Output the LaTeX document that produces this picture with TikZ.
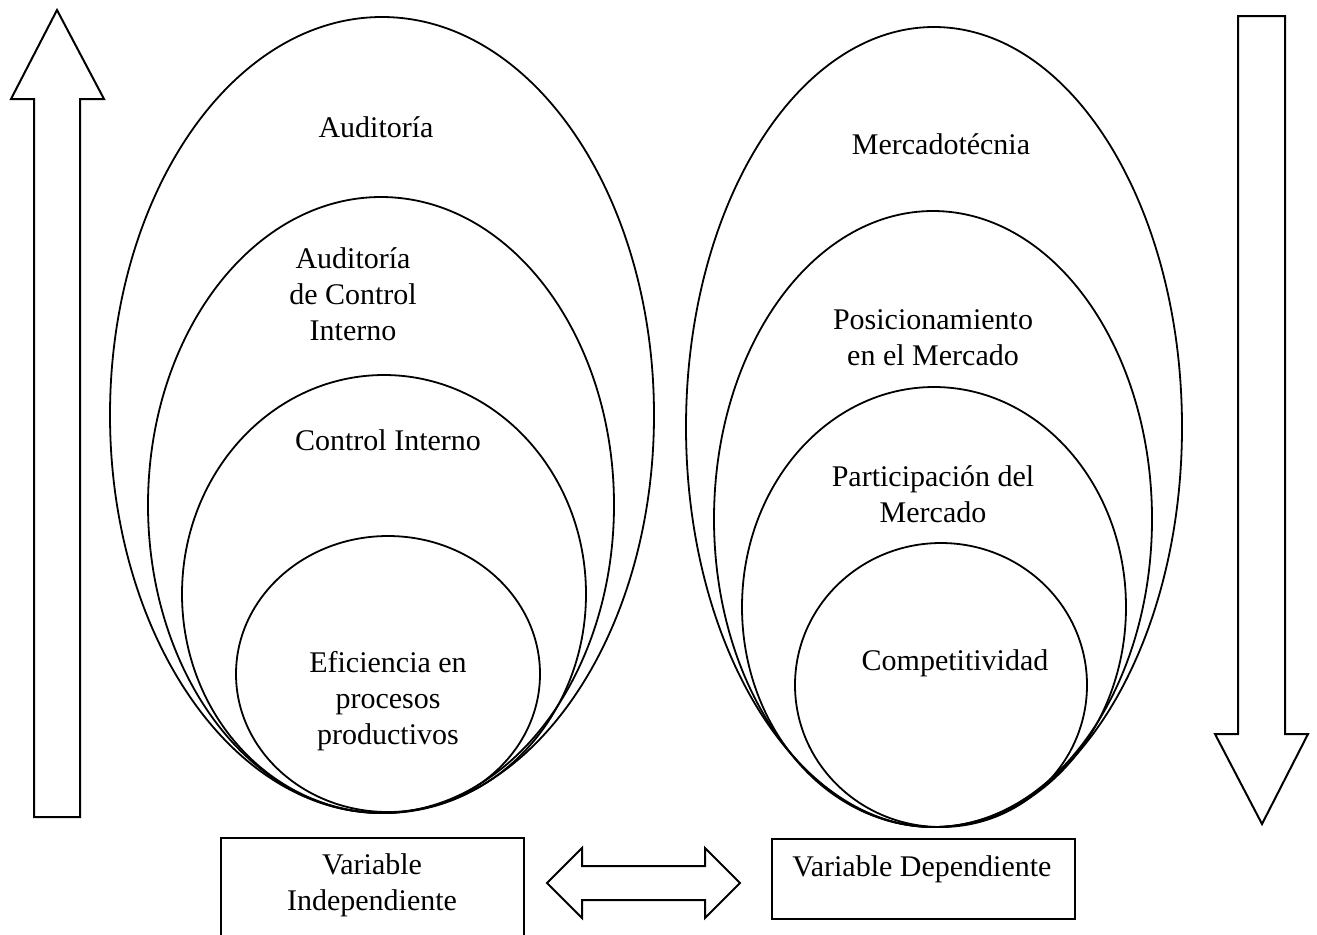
\documentclass[tikz,border=0pt]{standalone}
\usepackage{fontspec}
\setmainfont{Liberation Serif}
\begin{document}
\begin{tikzpicture}[x=0.5pt,y=-0.5pt,
  ring/.style={draw=black,line width=0.9pt},
  label/.style={align=center,font=\fontsize{15}{18}\selectfont,inner sep=0pt},
  block/.style={draw=black,line width=0.8pt},
  bigarrow/.style={draw=black,line width=1pt,line join=miter,fill=white}]
\useasboundingbox (0,0) rectangle (1317,934);

% upward arrow on the left
\draw[bigarrow] (34,817) -- (34,99) -- (11,99) -- (57,10) -- (104,99) -- (80,99) -- (80,817) -- cycle;
% downward arrow on the right
\draw[bigarrow] (1238,16) -- (1238,734) -- (1215,734) -- (1262,824) -- (1308,734) -- (1285,734) -- (1285,16) -- cycle;

% nested ellipses, independent variable
\draw[ring] (382,415) ellipse [x radius=136pt, y radius=199pt];
\draw[ring] (381,505) ellipse [x radius=116.5pt, y radius=154pt];
\draw[ring] (384,594) ellipse [x radius=101pt, y radius=109.5pt];
\draw[ring] (388,674) ellipse [x radius=76pt, y radius=69pt];

% nested ellipses, dependent variable
\draw[ring] (934,427) ellipse [x radius=124pt, y radius=200pt];
\draw[ring] (933,519) ellipse [x radius=109.5pt, y radius=154pt];
\draw[ring] (934,607) ellipse [x radius=96pt, y radius=110pt];
\draw[ring] (941,685) ellipse [x radius=73pt, y radius=71pt];

% labels, left
\node[label] (aud) at (376,127) {Auditoría};
\node[label] (audci) at (353,294) {Auditoría\\de Control\\Interno};
\node[label] (ci) at (388,440) {Control Interno};
\node[label] (efi) at (388,701) {Eficiencia en\\procesos\\productivos};

% labels, right
\node[label] (mkt) at (941,144) {Mercadotécnia};
\node[label] (pos) at (933,338) {Posicionamiento\\en el Mercado};
\node[label] (par) at (933,494) {Participación del\\Mercado};
\node[label] (comp) at (955,663) {Competitividad};

% variable boxes
\node[block,minimum width=151.5pt,minimum height=60pt,anchor=north west] (vi) at (220,837) {};
\node[label] (vit) at (372,885) {Variable\\Independiente};
\node[block,minimum width=151.5pt,minimum height=40pt,anchor=north west] (vd) at (771,838) {};
\node[label] (vdt) at (922,869) {Variable Dependiente};

% double-headed arrow between the boxes
\draw[bigarrow] (547,883) -- (582,848) -- (582,866) -- (705,866) -- (705,848) -- (740,883)
  -- (705,918) -- (705,900) -- (582,900) -- (582,918) -- cycle;
\end{tikzpicture}
\end{document}
